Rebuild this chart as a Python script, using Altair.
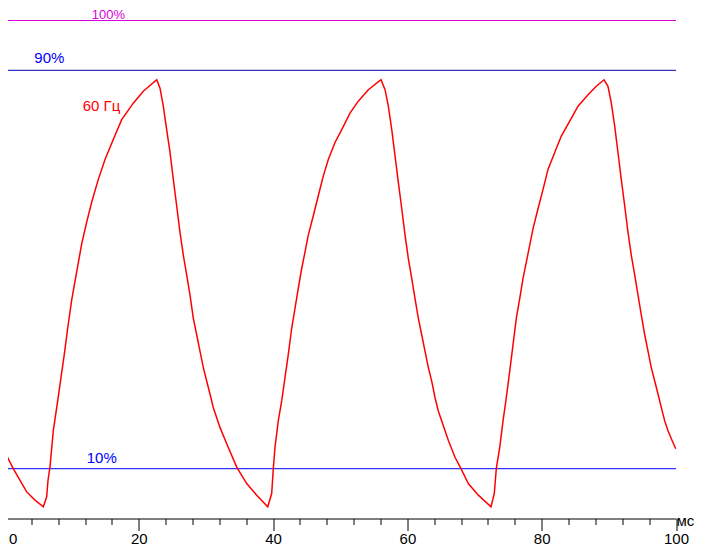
import altair as alt
import pandas as pd

# time, ms
t_ms = [0, 0.52, 1.31, 2.31, 3.31, 4.54, 5.78, 6.28, 6.48, 6.77, 7.27, 7.92, 8.41, 8.90, 9.41, 10.01,
        10.75, 11.50, 12.24, 12.98, 13.97, 14.97, 16.20, 17.45, 19.18, 20.67, 22.67,
        23.16, 23.65, 24.15, 24.65, 25.14, 25.64, 26.13, 26.63, 27.13, 27.62,
        28.12, 28.62, 29.11, 29.61, 30.11, 30.60, 31.09, 32.09, 33.09, 34.58, 36.07, 37.56, 39.20,
        39.79, 40.03, 40.28, 40.77, 41.28, 41.77, 42.26, 42.77, 43.26, 43.75,
        44.26, 44.75, 45.24, 45.99, 46.73, 47.48, 48.22, 49.22, 50.22, 51.45,
        52.69, 54.18, 56.07, 56.67, 57.16, 57.67, 58.16, 58.65, 59.16, 59.65,
        60.14, 60.64, 61.13, 61.63, 62.13, 62.62, 63.12, 63.62, 64.11, 64.60,
        65.11, 66.09, 67.09, 67.98, 69.07, 70.56, 72.45,
        72.94, 73.24, 73.75, 74.24, 74.73, 75.24, 75.73, 76.22, 76.73, 77.22,
        77.71, 78.22, 78.71, 79.45, 80.20, 80.94, 81.94, 82.92, 84.17, 85.41,
        86.90, 88.13, 89.28, 89.87, 90.37, 90.87, 91.36, 91.85, 92.36, 92.85,
        93.34, 93.85, 94.34, 94.83, 95.34, 95.83, 96.32, 96.83, 97.32, 97.81,
        98.32, 98.81, 99.40, 99.96]

# brightness, %
level = [14.0, 12.06, 10.0, 7.68, 5.34, 3.69, 2.35, 4.35, 7.68, 10.33, 17.64, 23.6, 28.3, 32.9, 38.2, 43.9,
         49.5, 55.2, 59.5, 63.5, 68.1, 72.1, 76.1, 80.1, 83.4, 85.8, 88.1,
         86.4, 82.8, 78.1, 73.5, 68.1, 62.8, 57.5, 52.9, 48.9, 44.9,
         40.2, 36.9, 33.6, 30.3, 27.6, 25.0, 22.3, 18.3, 15.0, 10.33, 7.02, 4.69, 2.35,
         5.02, 10.0, 14.3, 19.6, 23.6, 28.3, 32.9, 38.2, 42.2, 46.2,
         50.2, 53.5, 56.9, 60.8, 64.8, 68.8, 72.1, 75.5, 78.1, 81.4,
         83.8, 86.1, 88.1, 86.1, 82.8, 78.1, 72.8, 67.5, 62.2, 56.9,
         52.2, 48.2, 44.2, 40.2, 36.9, 33.6, 30.3, 27.6, 24.3, 21.6,
         19.6, 15.7, 12.3, 10.0, 7.02, 4.69, 2.35,
         5.02, 10.0, 14.3, 19.6, 24.3, 29.6, 34.9, 40.2, 44.2, 48.2,
         51.5, 54.9, 58.2, 62.2, 66.1, 70.1, 73.5, 76.8, 79.8, 82.8,
         85.1, 86.8, 88.1, 86.8, 83.4, 78.8, 73.5, 68.1, 62.8, 57.5,
         52.9, 48.9, 44.9, 40.9, 36.9, 33.6, 30.3, 27.6, 25.0, 22.3,
         19.6, 17.6, 15.7, 14.0]

ref_levels = [100, 90, 10]
ref_colors = ["#D800D8", "#0000B4", "#0000FF"]

label_texts = ["100%", "90%", "10%", "60 Гц"]
label_x = [13.0, 4.44, 12.24, 11.65]
label_y = [100.34, 91.5, 11.1, 81.8]
label_colors = ["#D800D8", "#0000FF", "#0000FF", "#FF0000"]
label_sizes = [13, 15, 15, 15]

tick_values = list(range(0, 101, 4))

FONT = "Liberation Sans"

curve = pd.DataFrame({"t": t_ms, "v": level})
refs = pd.DataFrame({"v": ref_levels, "c": ref_colors})
labels = pd.DataFrame({"txt": label_texts, "x": label_x, "y": label_y,
                       "c": label_colors, "s": label_sizes})

xscale = alt.Scale(domain=[0, 100], nice=False, zero=False)
yscale = alt.Scale(domain=[0, 100], nice=False, zero=False)

xaxis = alt.Axis(
    values=tick_values,
    tickCount=60,
    labelExpr="datum.value % 20 == 0 ? datum.label : ''",
    tickSize={"condition": {"test": "datum.value % 20 == 0", "value": 12}, "value": 6},
    grid=False,
    domainColor="#000000",
    domainWidth=1,
    tickColor="#000000",
    tickWidth=1,
    labelColor="#000000",
    labelFont=FONT,
    labelFontSize=15,
    labelPadding=1,
    labelAlign={"condition": {"test": "datum.value == 0", "value": "left"}, "value": "center"},
    labelOffset={"condition": {"test": "datum.value == 0", "value": 4}, "value": 0},
    labelFlush=False,
    labelOverlap=False,
    title="мс",
    titleFont=FONT,
    titleFontSize=15,
    titleFontWeight="normal",
    titleColor="#000000",
    titleAlign="left",
    titleBaseline="alphabetic",
    titleX=671.5,
    titleY=6.5,
)

rules = alt.Chart(refs).mark_rule(strokeWidth=1).encode(
    y=alt.Y("v:Q", scale=yscale, axis=None),
    color=alt.Color("c:N", scale=None),
)

line = alt.Chart(curve).mark_line(color="#FF0000", strokeWidth=1.5, interpolate="linear").encode(
    x=alt.X("t:Q", scale=xscale, axis=xaxis),
    y=alt.Y("v:Q", scale=yscale, axis=None),
)

texts = alt.Chart(labels).mark_text(
    align="left", baseline="alphabetic", font=FONT
).encode(
    x=alt.X("x:Q", scale=xscale),
    y=alt.Y("y:Q", scale=yscale),
    text="txt:N",
    color=alt.Color("c:N", scale=None),
    size=alt.Size("s:Q", scale=None),
)

chart = alt.layer(rules, line, texts).properties(
    width=671.5,
    height=498,
    padding={"left": -3.5, "top": 12.5, "right": 19, "bottom": 41.5},
    autosize=alt.AutoSizeParams(type="none"),
    background="#FFFFFF",
).configure_view(stroke=None)

chart.save("out.html", embed_options={"renderer": "svg", "actions": False})
